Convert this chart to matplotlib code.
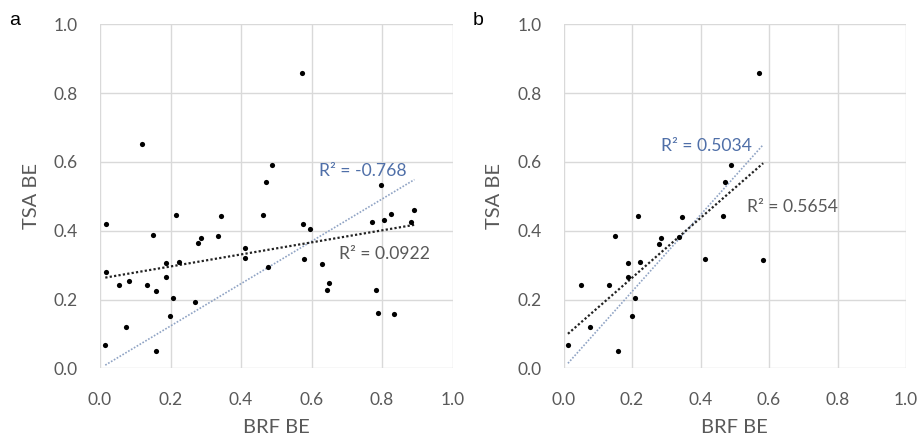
import numpy as np
import matplotlib
matplotlib.use("Agg")
import matplotlib.pyplot as plt

plt.rcParams['font.family'] = ['Lato', 'DejaVu Sans']

# Panel a data (BRF BE vs TSA BE, all samples)
a_x = [0.017, 0.017, 0.015, 0.054, 0.082, 0.075, 0.132, 0.151, 0.158, 0.158,
       0.186, 0.188, 0.199, 0.208, 0.216, 0.224, 0.269, 0.277, 0.286, 0.336,
       0.343, 0.412, 0.412, 0.463, 0.478, 0.577, 0.579, 0.597, 0.631, 0.644,
       0.649, 0.771, 0.807, 0.825, 0.783, 0.790, 0.833, 0.882, 0.892, 0.573,
       0.119, 0.488, 0.472, 0.798]
a_y = [0.420, 0.280, 0.068, 0.242, 0.253, 0.120, 0.242, 0.388, 0.225, 0.051,
       0.306, 0.265, 0.152, 0.204, 0.446, 0.309, 0.192, 0.363, 0.380, 0.385,
       0.443, 0.350, 0.320, 0.446, 0.294, 0.419, 0.317, 0.404, 0.304, 0.227,
       0.247, 0.425, 0.430, 0.450, 0.228, 0.162, 0.157, 0.424, 0.460, 0.857,
       0.652, 0.591, 0.542, 0.534]

# Panel b data (subset)
b_x = [0.013, 0.052, 0.076, 0.132, 0.149, 0.159, 0.187, 0.187, 0.199, 0.210,
       0.218, 0.224, 0.279, 0.285, 0.336, 0.345, 0.412, 0.466, 0.583, 0.571,
       0.488, 0.472]
b_y = [0.068, 0.241, 0.119, 0.241, 0.386, 0.050, 0.305, 0.264, 0.151, 0.203,
       0.444, 0.308, 0.361, 0.378, 0.383, 0.441, 0.318, 0.444, 0.316, 0.857,
       0.591, 0.542]

# Trend lines (slope, intercept)
a_fit_black = (0.175, 0.261)
a_fit_blue = (0.615, 0.0)
b_fit_black = (0.87, 0.089)
b_fit_blue = (1.115, 0.0)

a_labels = ["R² = -0.768", "R² = 0.0922"]
b_labels = ["R² = 0.5034", "R² = 0.5654"]
ticks = [0.0, 0.2, 0.4, 0.6, 0.8, 1.0]

W, H = 921, 438
fig = plt.figure(figsize=(W / 100, H / 100), dpi=100)

GRAY_TXT = '#595959'
BLUE_TXT = '#4f6fa8'
BLUE_LINE = '#8fa3c4'
GRID = '#d9d9d9'


def make_ax(left_px, right_px):
    top_px, bottom_px = 24.3, 368.3
    ax = fig.add_axes([left_px / W, (H - bottom_px) / H,
                       (right_px - left_px) / W, (bottom_px - top_px) / H])
    ax.set_xlim(0, 1)
    ax.set_ylim(0, 1)
    ax.set_xticks(ticks)
    ax.set_yticks(ticks)
    ax.set_xticklabels([f"{t:.1f}" for t in ticks])
    ax.set_yticklabels([f"{t:.1f}" for t in ticks])
    ax.grid(True, color=GRID, linewidth=1.0)
    ax.set_axisbelow(True)
    for s in ax.spines.values():
        s.set_visible(False)
    ax.tick_params(length=0, labelsize=12.5, colors=GRAY_TXT)
    ax.tick_params(axis='y', pad=16)
    ax.tick_params(axis='x', pad=17)
    ax.set_xlabel("BRF BE", fontsize=14.5, color=GRAY_TXT, labelpad=8)
    ax.set_ylabel("TSA BE", fontsize=14.5, color=GRAY_TXT, labelpad=10)
    return ax


def draw(ax, xs, ys, fit_black, fit_blue):
    xs = np.array(xs)
    ys = np.array(ys)
    xr = np.array([xs.min(), xs.max()])
    ax.plot(xr, fit_blue[0] * xr + fit_blue[1], color=BLUE_LINE,
            linestyle=(0, (1, 1)), linewidth=1.2, zorder=2)
    ax.plot(xr, fit_black[0] * xr + fit_black[1], color='#222222',
            linestyle=(0, (1, 1)), linewidth=1.6, zorder=2)
    ax.scatter(xs, ys, s=14, color='black', zorder=3, linewidths=0)


ax_a = make_ax(100, 452.5)
draw(ax_a, a_x, a_y, a_fit_black, a_fit_blue)
ax_a.text(0.621, 0.574, a_labels[0], color=BLUE_TXT, fontsize=12.6, va='center', ha='left')
ax_a.text(0.677, 0.333, a_labels[1], color=GRAY_TXT, fontsize=12.6, va='center', ha='left')

ax_b = make_ax(563.5, 906)
draw(ax_b, b_x, b_y, b_fit_black, b_fit_blue)
ax_b.text(0.286, 0.645, b_labels[0], color=BLUE_TXT, fontsize=12.6, va='center', ha='left')
ax_b.text(0.536, 0.469, b_labels[1], color=GRAY_TXT, fontsize=12.6, va='center', ha='left')

fig.text(15 / W, 1 - 25 / H, "a", fontsize=14, family=['Liberation Sans'], ha='center', va='baseline')
fig.text(478 / W, 1 - 25 / H, "b", fontsize=14, family=['Liberation Sans'], ha='center', va='baseline')

fig.savefig("out.png", dpi=100)
